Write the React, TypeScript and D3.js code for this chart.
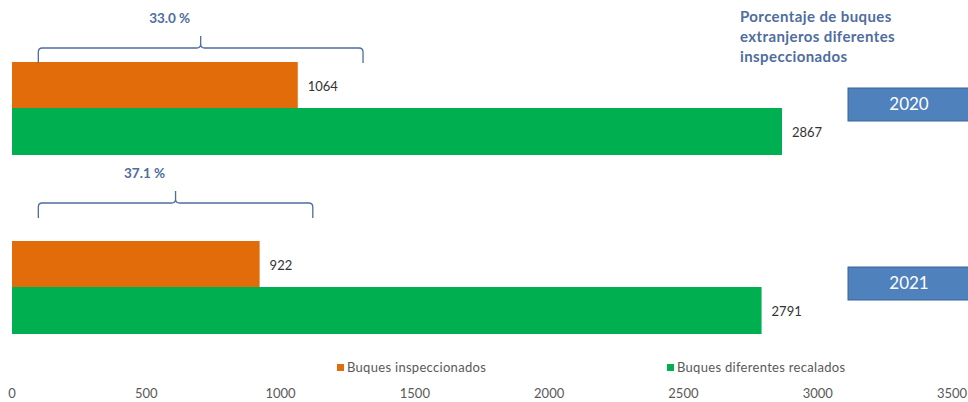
import * as d3 from "d3";

const years = ["2020", "2021"];
const inspected = [1064, 922];
const called = [2867, 2791];
const percents = ["33.0 %", "37.1 %"];
const xTicks = [0, 500, 1000, 1500, 2000, 2500, 3000, 3500];
// bracket span in axis units (annotation)
const bracketFrom = [98, 98];
const bracketTo = [1307, 1120];

const W = 968;
const H = 402;
const ORANGE = "#E36C0A";
const GREEN = "#00B050";
const BLUE = "#4F81BD";
const ANNOT = "#4F6D9E";
const FONT = "Lato, 'Open Sans', sans-serif";

export default function App() {
  const x = d3.scaleLinear().domain([0, 3500]).range([12, 952]);
  const groupTop = d3.scaleOrdinal<string, number>().domain(years).range([62, 241]);
  // vertical placement of the brace above each group
  const braceTop = d3.scaleOrdinal<string, number>().domain(years).range([48, 203]);
  const barH = 47;

  return (
    <svg
      width={W}
      height={H}
      style={{ position: "absolute", left: 0, top: 0, background: "#fff" }}
      fontFamily={FONT}
    >
      {years.map((y, i) => {
        const top = groupTop(y);
        const bTop = braceTop(y);
        const bBot = bTop + 15;
        const x0 = x(bracketFrom[i]);
        const x1 = x(bracketTo[i]);
        const xm = (x0 + x1) / 2;
        const r = 4;
        const path = d3.path();
        path.moveTo(x0, bBot);
        path.lineTo(x0, bTop + r);
        path.quadraticCurveTo(x0, bTop, x0 + r, bTop);
        path.lineTo(xm - r, bTop);
        path.quadraticCurveTo(xm, bTop, xm, bTop - r);
        path.lineTo(xm, bTop - 12);
        path.moveTo(xm, bTop - r);
        path.quadraticCurveTo(xm, bTop, xm + r, bTop);
        path.lineTo(x1 - r, bTop);
        path.quadraticCurveTo(x1, bTop, x1, bTop + r);
        path.lineTo(x1, bBot);
        return (
          <g key={y}>
            <rect x={x(0)} y={top} width={x(inspected[i]) - x(0)} height={barH - 1} fill={ORANGE} />
            <rect x={x(0)} y={top + barH - 1} width={x(called[i]) - x(0)} height={barH} fill={GREEN} />
            <text x={x(inspected[i]) + 10} y={top + barH / 2 + 5} fontSize={13} fill="#333">
              {inspected[i]}
            </text>
            <text x={x(called[i]) + 10} y={top + barH * 1.5 + 4} fontSize={13} fill="#333">
              {called[i]}
            </text>
            <path d={path.toString()} fill="none" stroke={ANNOT} strokeWidth={1.3} />
            <text
              x={xm - 31}
              y={bTop - 25}
              fontSize={13.5}
              fontWeight="bold"
              fill={ANNOT}
              textAnchor="middle"
            >
              {percents[i]}
            </text>
            <rect
              x={848}
              y={top + 26}
              width={122}
              height={33}
              fill={BLUE}
              stroke="#3A6296"
              strokeWidth={1}
            />
            <text x={909} y={top + 48} fontSize={17} fill="#fff" textAnchor="middle">
              {y}
            </text>
          </g>
        );
      })}

      <text fontSize={15} fontWeight="bold" fill={ANNOT} letterSpacing={0.4}>
        <tspan x={740} y={22}>Porcentaje de buques</tspan>
        <tspan x={740} y={42}>extranjeros diferentes</tspan>
        <tspan x={740} y={62}>inspeccionados</tspan>
      </text>

      <g fontSize={13} fill="#595959">
        <rect x={337} y={364} width={7} height={7} fill={ORANGE} />
        <text x={347} y={372} letterSpacing={0.3}>Buques inspeccionados</text>
        <rect x={667} y={364} width={7} height={7} fill={GREEN} />
        <text x={677} y={372} letterSpacing={0.3}>Buques diferentes recalados</text>
      </g>

      <g fontSize={13} fill="#595959" textAnchor="middle">
        {xTicks.map((t) => (
          <text key={t} x={x(t)} y={398}>
            {t}
          </text>
        ))}
      </g>
    </svg>
  );
}
